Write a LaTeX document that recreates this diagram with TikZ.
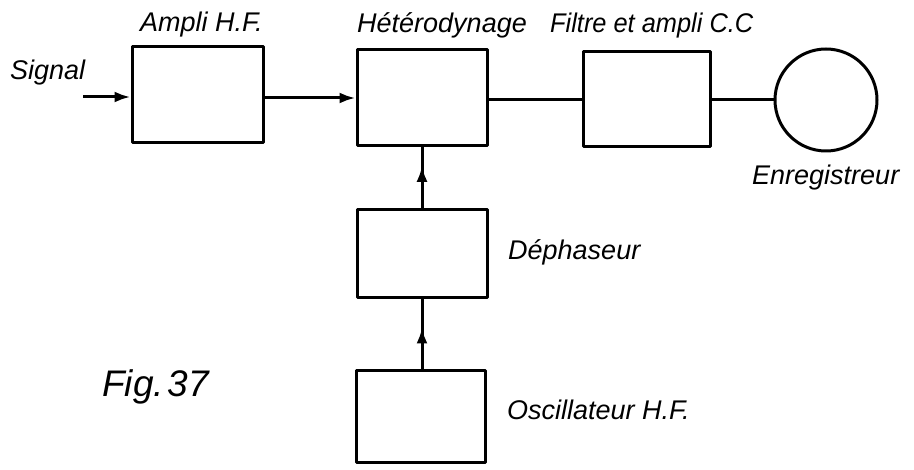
\documentclass[tikz,border=0pt]{standalone}
\usepackage{fontspec}
\setmainfont{Liberation Sans}
\usetikzlibrary{arrows.meta,calc}
\begin{document}
\begin{tikzpicture}[x=1pt,y=-1pt,
  blk/.style={draw,line width=3pt,inner sep=0pt,line join=round},
  lbl/.style={inner sep=0pt,font=\fontsize{27}{30}\selectfont\itshape},
  wire/.style={line width=3pt},
  arr/.style={line width=3pt,-{Latex[length=16pt,width=11pt]}}]
\fill[white] (0,0) rectangle (914,470);
\useasboundingbox (0,0) rectangle (914,470);
% blocks
\node[blk,minimum width=131pt,minimum height=96pt] (ampli) at (197.5,95) {};
\node[blk,minimum width=130pt,minimum height=96pt] (het) at (422,98) {};
\node[blk,minimum width=127pt,minimum height=95pt] (filtre) at (646.5,99.5) {};
\node[blk,circle,minimum size=102pt] (enr) at (826,100) {};
\node[blk,minimum width=130pt,minimum height=88pt] (deph) at (422,254) {};
\node[blk,minimum width=129pt,minimum height=92pt] (osc) at (421,417) {};
\coordinate (sig) at (83,97);
% labels
\node[lbl,anchor=base west] (tsig) at (10,80) {Signal};
\node[lbl,anchor=base west] (tampli) at (140,32) {Ampli H.F.};
\node[lbl,anchor=base west] (thet) at (357,33) {Hétérodynage};
\node[lbl,anchor=base west,xscale=0.94] (tfil) at (550,33) {Filtre et ampli C.C};
\node[lbl,anchor=base west] (tenr) at (752,185) {Enregistreur};
\node[lbl,anchor=base west] (tdeph) at (508,260) {Déphaseur};
\node[lbl,anchor=base west] (tosc) at (507,420) {Oscillateur H.F.};
\node[lbl,anchor=base west,font=\fontsize{37}{40}\selectfont\itshape] (tfig) at (102,397) {Fig.\kern4pt 37};
% connectors
\draw[arr] (sig) -- (sig -| ampli.west);
\draw[arr] (ampli.east |- 0,98) -- (het.west |- 0,98);
\draw[wire] (het.east |- 0,100) -- (filtre.west |- 0,100);
\draw[wire] (filtre.east |- 0,100) -- (enr.west);
\draw[wire] (deph.north) -- (het.south);
\draw[arr] (deph.north) -- ($(deph.north)!0.7!(het.south)$);
\draw[wire] (osc.north -| deph.south) -- (deph.south);
\draw[arr] (osc.north -| deph.south) -- ($(osc.north -| deph.south)!0.6!(deph.south)$);
\end{tikzpicture}
\end{document}
